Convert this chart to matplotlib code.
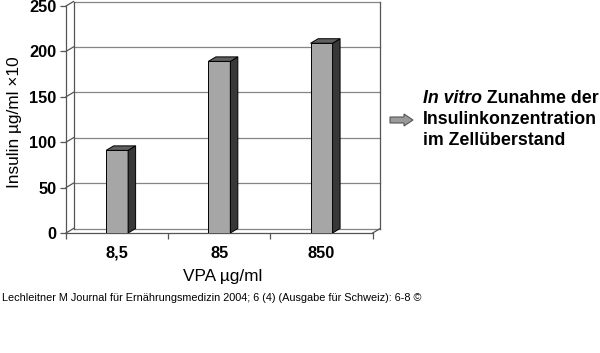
import matplotlib

matplotlib.use("Agg")
import matplotlib.pyplot as plt
from matplotlib.patches import Polygon
from matplotlib.transforms import ScaledTranslation

plt.rcParams["font.family"] = ["Liberation Sans", "DejaVu Sans"]

# Data
categories = ["8,5", "85", "850"]
insulin = [91, 189, 209]
y_ticks = [0, 50, 100, 150, 200, 250]

W, H = 600, 353
BAR_FRONT = "#a6a6a6"
BAR_SIDE = "#383838"
BAR_TOP = "#606060"
GRID = "#858585"
FRAME = "#555555"
DEPTH_X, DEPTH_Y = 7.5, 4.5  # pixel offset of the back wall


def fx(px):
    return px / W


def fy(py):
    return 1 - py / H


fig = plt.figure(figsize=(W / 100, H / 100), dpi=100)
left, right, top, bottom = 66, 372.7, 6, 233
ax = fig.add_axes([fx(left), fy(bottom), (right - left) / W, (bottom - top) / H])
ax.set_xlim(0, len(categories))
ax.set_ylim(0, 250)
for s in ax.spines.values():
    s.set_visible(False)

back = ax.transData + ScaledTranslation(DEPTH_X / 100, DEPTH_Y / 100, fig.dpi_scale_trans)
n = len(categories)

# depth in data units
dx = DEPTH_X / (right - left) * n
dy = DEPTH_Y / (bottom - top) * 250

# back wall grid, left wall diagonals and outline
for v in y_ticks:
    ax.plot([0, n], [v, v], color=GRID, lw=0.9, transform=back, clip_on=False)
    ax.plot([0, dx], [v, v + dy], color=FRAME, lw=0.9, clip_on=False)
for xv in (0, n):
    ax.plot([xv, xv], [0, 250], color=FRAME, lw=0.9, transform=back, clip_on=False)
ax.plot([n, n + dx], [0, dy], color=FRAME, lw=0.9, clip_on=False)

# front axis lines
ax.plot([0, 0], [0, 250], color=FRAME, lw=0.9, clip_on=False)
ax.plot([0, n], [0, 0], color=FRAME, lw=0.9, clip_on=False)

# bars
width = 0.215
for i, v in enumerate(insulin):
    c = i + 0.5
    x0, x1 = c - width / 2, c + width / 2
    ax.bar(c, v, width=width, color=BAR_FRONT, edgecolor="black", lw=0.7, zorder=3)
    side = Polygon([(x1, 0), (x1 + dx, dy), (x1 + dx, v + dy), (x1, v)],
                   closed=True, facecolor=BAR_SIDE, edgecolor="black", lw=0.7, zorder=3)
    topf = Polygon([(x0, v), (x1, v), (x1 + dx, v + dy), (x0 + dx, v + dy)],
                   closed=True, facecolor=BAR_TOP, edgecolor="black", lw=0.7, zorder=3)
    ax.add_patch(side)
    ax.add_patch(topf)

ax.set_yticks(y_ticks)
ax.set_yticklabels([str(t) for t in y_ticks], fontsize=11.8, fontweight="bold")
ax.tick_params(axis="y", length=4, width=0.9, color=FRAME, pad=3)
ax.set_xticks(range(n + 1))
ax.set_xticklabels([""] * (n + 1))
ax.set_xticks([i + 0.5 for i in range(n)], minor=True)
ax.set_xticklabels(categories, minor=True, fontsize=11.8, fontweight="bold")
ax.tick_params(axis="x", which="major", length=4, width=0.9, color=FRAME)
ax.tick_params(axis="x", which="minor", length=0, pad=9)

fig.text(fx(15), fy(122.5), "Insulin µg/ml ×10", rotation=90, fontsize=12.4,
         ha="center", va="center")
fig.text(fx(222.5), fy(276), "VPA µg/ml", fontsize=12.4, ha="center", va="center")

# arrow
arrow = Polygon([(fx(390), fy(117)), (fx(404), fy(117)), (fx(404), fy(114)),
                 (fx(413), fy(120)), (fx(404), fy(126)), (fx(404), fy(123)),
                 (fx(390), fy(123))], closed=True, transform=fig.transFigure,
                facecolor="#9a9a9a", edgecolor="#555555", lw=0.8)
fig.add_artist(arrow)

t1 = fig.text(fx(423), fy(99), "In vitro", fontsize=12.8, fontweight="bold",
              fontstyle="italic", va="center")
ax.annotate(" Zunahme der", xy=(1, 0), xycoords=t1, va="bottom", ha="left",
            fontsize=12.8, fontweight="bold", annotation_clip=False)
fig.text(fx(423), fy(119.5), "Insulinkonzentration", fontsize=12.8,
         fontweight="bold", va="center")
fig.text(fx(423), fy(140.5), "im Zellüberstand", fontsize=12.8,
         fontweight="bold", va="center")

fig.text(fx(2), fy(298), "Lechleitner M Journal für Ernährungsmedizin 2004; 6 (4) "
         "(Ausgabe für Schweiz): 6-8 ©", fontsize=7.8, va="center")

fig.savefig("out.png", dpi=100)
